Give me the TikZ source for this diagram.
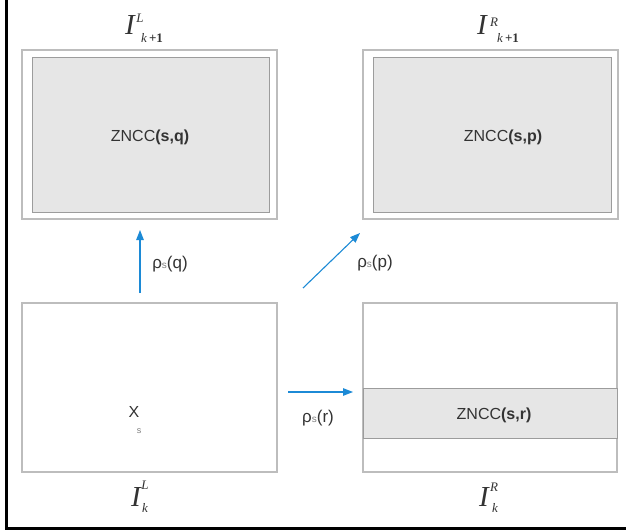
\documentclass[tikz,border=0pt]{standalone}
\usepackage{fontspec}
\setmainfont{Liberation Sans}
\newfontfamily\lserif{Liberation Serif}
\usetikzlibrary{arrows.meta}
\definecolor{arrblue}{HTML}{1C8AD6}
\definecolor{boxline}{HTML}{BDBDBD}
\definecolor{innerline}{HTML}{9C9C9C}
\definecolor{boxfill}{HTML}{E6E6E6}
\definecolor{txt}{HTML}{333333}
\begin{document}
\begin{tikzpicture}[x=1pt,y=-1pt,
  frame/.style={draw=boxline, line width=1.3pt, fill=white, inner sep=0pt, outer sep=0pt},
  panel/.style={draw=innerline, line width=1pt, fill=boxfill, inner sep=0pt, outer sep=0pt},
  zncc/.style={font=\fontsize{16}{18}\selectfont, text=txt, inner sep=0pt},
  rho/.style={font=\fontsize{17}{19}\selectfont, text=txt, inner sep=0pt},
  flow/.style={draw=arrblue, line width=1.1pt, -{Triangle[length=10pt,width=7.5pt]}},
  bigI/.style={font=\lserif\itshape\fontsize{29}{29}\selectfont, text=txt, inner sep=0pt, anchor=base},
  scr/.style={font=\lserif\fontsize{13}{13}\selectfont, text=txt, inner sep=0pt, anchor=base}]
\useasboundingbox (0,0) rectangle (626,532);
\fill[white] (0,0) rectangle (626,532);

% left and bottom rules of the frame
\draw[line width=3pt] (6,0) -- (6,528) -- (626,528);

% upper-left image with its correlation window
\node[frame, minimum width=255pt, minimum height=169pt] (tl) at (149.5,134.5) {};
\node[panel, minimum width=237pt, minimum height=154pt] (tlin) at (150.5,135) {};
\node[zncc] (tltxt) at (150,137) {ZNCC\textbf{(s,q)}};

% upper-right image with its correlation window
\node[frame, minimum width=255pt, minimum height=169pt] (tr) at (490.5,134.5) {};
\node[panel, minimum width=238pt, minimum height=154pt] (trin) at (492,135) {};
\node[zncc] (trtxt) at (503,137) {ZNCC\textbf{(s,p)}};

% lower-left image with the seed point
\node[frame, minimum width=255pt, minimum height=169pt] (bl) at (149.5,387.5) {};
\node[font=\fontsize{16}{16}\selectfont, text=txt, inner sep=0pt] (xs) at (134,412) {X};
\node[font=\fontsize{9}{9}\selectfont, text=gray, inner sep=0pt] (xsub) at (139,431) {s};

% lower-right image with the epipolar band
\node[frame, minimum width=254pt, minimum height=169pt] (br) at (490,387.5) {};
\node[panel, minimum width=254pt, minimum height=50pt] (band) at (490,413) {};
\node[zncc] (brtxt) at (494,415) {ZNCC\textbf{(s,r)}};

% propagation arrows
\coordinate (pfrom) at (303,288);
\coordinate (pto) at (360,233);
\coordinate (rfrom) at (288,392);
\draw[flow, shorten <=10pt, shorten >=11pt] ([xshift=-9.5pt]bl.north) -- ([xshift=-9.5pt]tl.south);
\draw[flow] (pfrom) -- (pto);
\draw[flow, shorten >=10pt] (rfrom) -- (br.west |- rfrom);

\node[rho] (lq) at (170,264) {ρ\textcolor{gray}{\fontsize{10}{10}\selectfont s}(q)};
\node[rho] (lp) at (375,263) {ρ\textcolor{gray}{\fontsize{10}{10}\selectfont s}(p)};
\node[rho] (lr) at (318,418) {ρ\textcolor{gray}{\fontsize{10}{10}\selectfont s}(r)};

% image names
\node[bigI] (itl) at (130,35) {I};
\node[scr] (itlsup) at (140,23) {\itshape L};
\node[scr] (itlsub) at (152,43) {\itshape k\,\upshape\textbf{+1}};

\node[bigI] (itr) at (482,35) {I};
\node[scr] (itrsup) at (494,27) {\itshape R};
\node[scr] (itrsub) at (508,43) {\itshape k\,\upshape\textbf{+1}};

\node[bigI] (ibl) at (136,506) {I};
\node[scr] (iblsup) at (145,489) {\itshape L};
\node[scr] (iblsub) at (145,512) {\itshape k};

\node[bigI] (ibr) at (484,506) {I};
\node[scr] (ibrsup) at (494,491) {\itshape R};
\node[scr] (ibrsub) at (495,512) {\itshape k};
\end{tikzpicture}
\end{document}
